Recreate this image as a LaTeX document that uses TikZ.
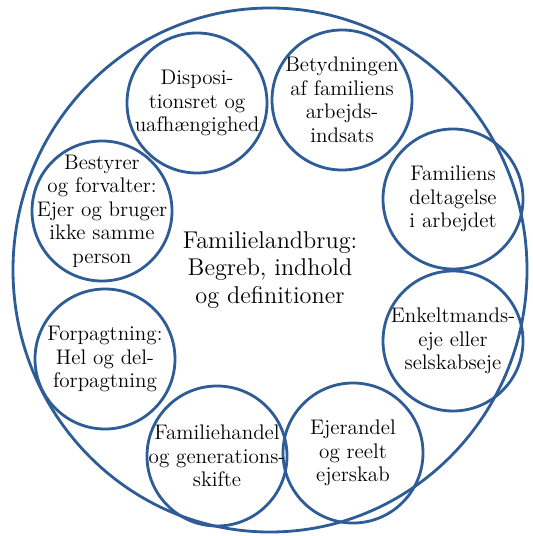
\documentclass[tikz,border=0pt]{standalone}
\usepackage{tikz}
\definecolor{ringblue}{RGB}{45,92,150}

\begin{document}
\begin{tikzpicture}[x=0.02cm,y=-0.02cm,
        ring/.style={ringblue,line width=1.6pt},
        topic/.style={inner sep=0pt,align=center,font=\fontsize{12}{13.4}\selectfont},
        core/.style={align=center,font=\fontsize{13.8}{15.6}\selectfont}]
        \useasboundingbox (0,0) rectangle (532,536);

        % the outer ring
        \draw[ring] (270,270) ellipse (257 and 262);

        % the title in the middle
        \node[core] (title) at (270,270) {Familielandbrug:\\Begreb, indhold\\og definitioner};

        % the eight topics round the ring
        \foreach \x/\y/\name/\txt in {
            197/103/disp/{Disposi-\\tionsret og\\uafhængighed},
            342/100/bet/{Betydningen\\af familiens\\arbejds-\\indsats},
            453/199/delt/{Familiens\\deltagelse\\i arbejdet},
            453/341/enk/{Enkeltmands-\\eje eller\\selskabseje},
            353/453/ejer/{Ejerandel\\og reelt\\ejerskab},
            217/456/handel/{Familiehandel\\og generations-\\skifte},
            105/359/forp/{Forpagtning:\\Hel og del-\\forpagtning},
            102/211/best/{Bestyrer\\og forvalter:\\Ejer og bruger\\ikke samme\\person}} {
                \node[topic] (\name) at (\x,\y) {\txt};
                \draw[ring] (\name.center) circle (70);
        }
\end{tikzpicture}
\end{document}
